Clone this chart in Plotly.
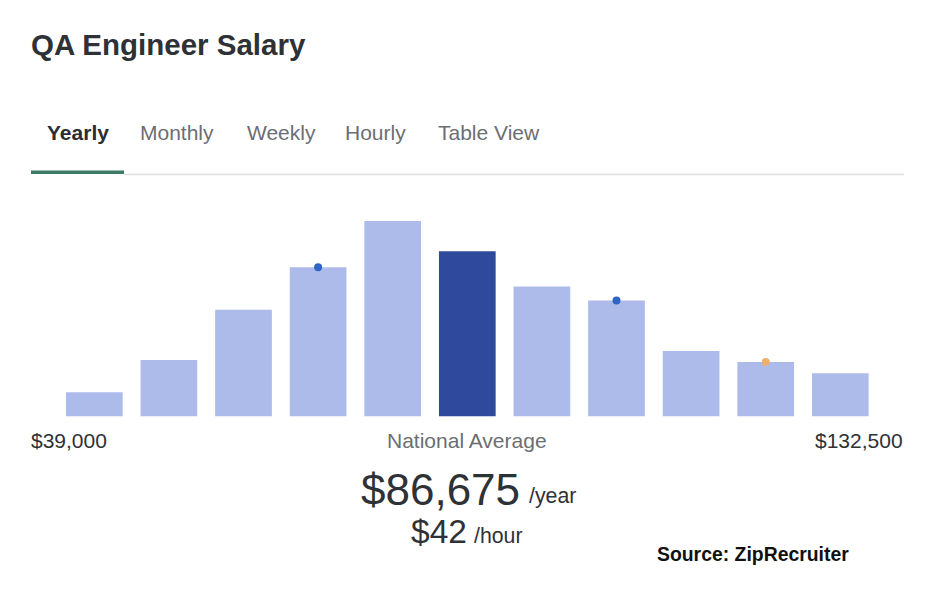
import plotly.graph_objects as go

W, H = 936, 594

# ---- data ----
buckets = list(range(11))
share_pct = [2.4, 5.6, 10.6, 14.8, 19.4, 16.4, 12.9, 11.5, 6.5, 5.4, 4.3]
highlight_index = 5  # national average bucket
marker_buckets = [3, 7, 9]
marker_colors = ["#2f66c4", "#2f66c4", "#f0ae6c"]
tabs = ["Yearly", "Monthly", "Weekly", "Hourly", "Table View"]
tab_x = [47, 140, 247, 345, 438]
range_low_label = "$39,000"
range_high_label = "$132,500"
avg_year_label = "$86,675"
avg_hour_label = "$42"

LIGHT = "#adbbeb"
DARK = "#2f4a9d"
TEXT = "#2e3135"
GREY = "#6b6e73"

bar_colors = [DARK if i == highlight_index else LIGHT for i in buckets]

fig = go.Figure()
fig.add_trace(go.Bar(x=buckets, y=share_pct, marker=dict(color=bar_colors, line=dict(width=0)),
                     hoverinfo="skip"))
fig.add_trace(go.Scatter(x=marker_buckets, y=[share_pct[i] for i in marker_buckets], mode="markers",
                         marker=dict(size=8, color=marker_colors), hoverinfo="skip"))

def px(x):
    return x / W

def py(y):
    return 1 - y / H

x0, x1 = 57, 877.6
ybase, ytop = 416.5, 200
ymax = share_pct[4] * (ybase - ytop) / 195.5

fig.update_layout(
    width=W, height=H, margin=dict(l=0, r=0, t=0, b=0),
    paper_bgcolor="white", plot_bgcolor="white", showlegend=False,
    bargap=0.24,
    font=dict(family="Liberation Sans, Arial, sans-serif", color=TEXT),
    xaxis=dict(domain=[px(x0), px(x1)], range=[-0.5, 10.5], visible=False, fixedrange=True),
    yaxis=dict(domain=[py(ybase), py(ytop)], range=[0, ymax], visible=False, fixedrange=True),
)

ann = []
def add(text, x, y, size, color=TEXT, xanchor="left", bold=False):
    if bold:
        text = "<b>" + text + "</b>"
    ann.append(dict(text=text, x=px(x), y=py(y), xref="paper", yref="paper", showarrow=False,
                    xanchor=xanchor, yanchor="middle", font=dict(size=size, color=color)))

add("QA Engineer Salary", 29, 44, 29.5, TEXT, bold=True)
for i, (t, tx) in enumerate(zip(tabs, tab_x)):
    add(t, tx - 2, 132, 21, "#2b2d30" if i == 0 else GREY, bold=(i == 0))
add(range_low_label, 29, 440, 21, TEXT)
add("National Average", 467, 440, 21, GREY, xanchor="center")
add(range_high_label, 905, 440, 21, TEXT, xanchor="right")
add(avg_year_label, 522, 489, 44, TEXT, xanchor="right")
add("/year", 527, 496, 21.3, TEXT)
add(avg_hour_label, 469, 531, 33.5, TEXT, xanchor="right")
add("/hour", 472, 536, 21.3, TEXT)
add("Source: ZipRecruiter", 655, 554, 19.4, "#111111", bold=True)
fig.update_layout(annotations=ann)

fig.update_layout(shapes=[
    dict(type="line", xref="paper", yref="paper", x0=px(124), x1=px(904), y0=py(174.5), y1=py(174.5),
         line=dict(color="#dedfe1", width=1.5)),
    dict(type="rect", xref="paper", yref="paper", x0=px(31), x1=px(124), y0=py(174), y1=py(170.5),
         fillcolor="#3e7b67", line=dict(width=0)),
])

fig.write_html("out.html", config={"displayModeBar": False})
